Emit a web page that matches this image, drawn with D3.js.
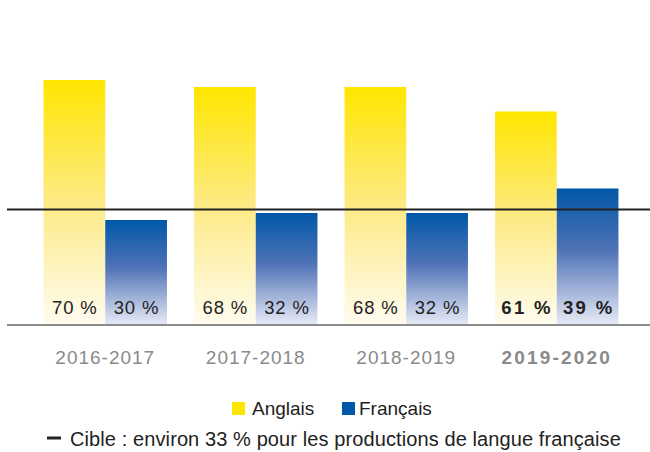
<!DOCTYPE html>
<html>
<head lang="fr">
    <meta charset="UTF-8">
    <title>Anglais / Français</title>
    <script type="text/javascript" src="https://cdn.jsdelivr.net/npm/d3@7/dist/d3.min.js"></script>
    <style>
        body { margin: 0; background: #fff; }
        svg text { font-family: "Liberation Sans", Arial, Helvetica, sans-serif; }
    </style>
</head>
<body>

<svg width="650" height="452"></svg>

<script>
    // données
    var years = ["2016-2017", "2017-2018", "2018-2019", "2019-2020"];
    var anglais = [70, 68, 68, 61];
    var francais = [30, 32, 32, 39];
    var series = ["Anglais", "Français"];
    var cible = 33;
    var highlight = "2019-2020";

    var svg = d3.select("svg");
    var baseY = 325;

    var x0 = d3.scaleBand()
            .domain(years)
            .range([30, 632])
            .paddingInner(0.18)
            .paddingOuter(0.09);

    var x1 = d3.scaleBand()
            .domain(series)
            .range([0, x0.bandwidth()]);

    var y = d3.scaleLinear()
            .domain([0, 100])
            .range([baseY, baseY - 350]);

    // gradients
    var defs = svg.append("defs");
    var gY = defs.append("linearGradient").attr("id", "gradY")
            .attr("x1", 0).attr("y1", 0).attr("x2", 0).attr("y2", 1);
    gY.append("stop").attr("offset", "0%").attr("stop-color", "#ffe600");
    gY.append("stop").attr("offset", "50%").attr("stop-color", "#fdea85");
    gY.append("stop").attr("offset", "100%").attr("stop-color", "#fffcf0");

    var gB = defs.append("linearGradient").attr("id", "gradB")
            .attr("x1", 0).attr("y1", 0).attr("x2", 0).attr("y2", 1);
    gB.append("stop").attr("offset", "0%").attr("stop-color", "#0058a8");
    gB.append("stop").attr("offset", "45%").attr("stop-color", "#4f72b6");
    gB.append("stop").attr("offset", "100%").attr("stop-color", "#e8ebf6");

    var fills = {"Anglais": "url(#gradY)", "Français": "url(#gradB)"};

    var rows = years.map(function (yr, i) {
        return {year: yr, values: [
            {key: "Anglais", v: anglais[i]},
            {key: "Français", v: francais[i]}
        ]};
    });

    var groups = svg.selectAll("g.grp")
            .data(rows)
            .enter().append("g")
            .attr("class", "grp")
            .attr("transform", function (d) { return "translate(" + x0(d.year) + ",0)"; });

    groups.selectAll("rect")
            .data(function (d) { return d.values; })
            .enter().append("rect")
            .attr("x", function (d) { return x1(d.key); })
            .attr("width", x1.bandwidth())
            .attr("y", function (d) { return y(d.v); })
            .attr("height", function (d) { return baseY - y(d.v); })
            .style("fill", function (d) { return fills[d.key]; });

    groups.each(function (row) {
        var bold = row.year === highlight;
        var ls = bold ? 2.4 : 0.9;
        d3.select(this).selectAll("text.val")
                .data(row.values)
                .enter().append("text")
                .attr("class", "val")
                .attr("x", function (d) { return x1(d.key) + x1.bandwidth() / 2 + ls / 2; })
                .attr("y", baseY - 11)
                .attr("text-anchor", "middle")
                .style("font-size", "18.5px")
                .style("letter-spacing", ls + "px")
                .style("font-weight", bold ? "bold" : "normal")
                .style("fill", "#222")
                .text(function (d) { return d.v + " %"; });
    });

    // axe
    svg.append("line")
            .attr("x1", 7).attr("x2", 650)
            .attr("y1", baseY).attr("y2", baseY)
            .style("stroke", "#8c8c8c").style("stroke-width", 2);

    svg.selectAll("text.year")
            .data(years)
            .enter().append("text")
            .attr("class", "year")
            .attr("x", function (d) { return x0(d) + x0.bandwidth() / 2; })
            .attr("y", 364)
            .attr("text-anchor", "middle")
            .style("font-size", "19px")
            .style("letter-spacing", function (d) { return d === highlight ? "2.2px" : "1px"; })
            .style("font-weight", function (d) { return d === highlight ? "bold" : "normal"; })
            .style("fill", "#8a8a8a")
            .text(function (d) { return d; });

    // ligne cible
    svg.append("line")
            .attr("x1", 7).attr("x2", 650)
            .attr("y1", y(cible)).attr("y2", y(cible))
            .style("stroke", "#222").style("stroke-width", 2);

    // légende
    var legend = svg.append("g").attr("transform", "translate(232,402)");
    var legX = [0, 110];
    var legTextX = [20, 127];
    var legColors = ["#ffe600", "#0058a8"];
    series.forEach(function (s, i) {
        legend.append("rect")
                .attr("x", legX[i]).attr("y", 0)
                .attr("width", 13).attr("height", 13)
                .style("fill", legColors[i]);
        legend.append("text")
                .attr("x", legTextX[i]).attr("y", 13)
                .style("font-size", "19px")
                .style("fill", "#222")
                .text(s);
    });

    var note = svg.append("g").attr("transform", "translate(47,446)");
    note.append("line")
            .attr("x1", 0).attr("x2", 14)
            .attr("y1", -8).attr("y2", -8)
            .style("stroke", "#222").style("stroke-width", 3);
    note.append("text")
            .attr("x", 23).attr("y", 0)
            .style("font-size", "20px")
            .style("letter-spacing", "0.1px")
            .style("fill", "#222")
            .text("Cible : environ " + cible + " % pour les productions de langue française");
</script>
</body>
</html>
